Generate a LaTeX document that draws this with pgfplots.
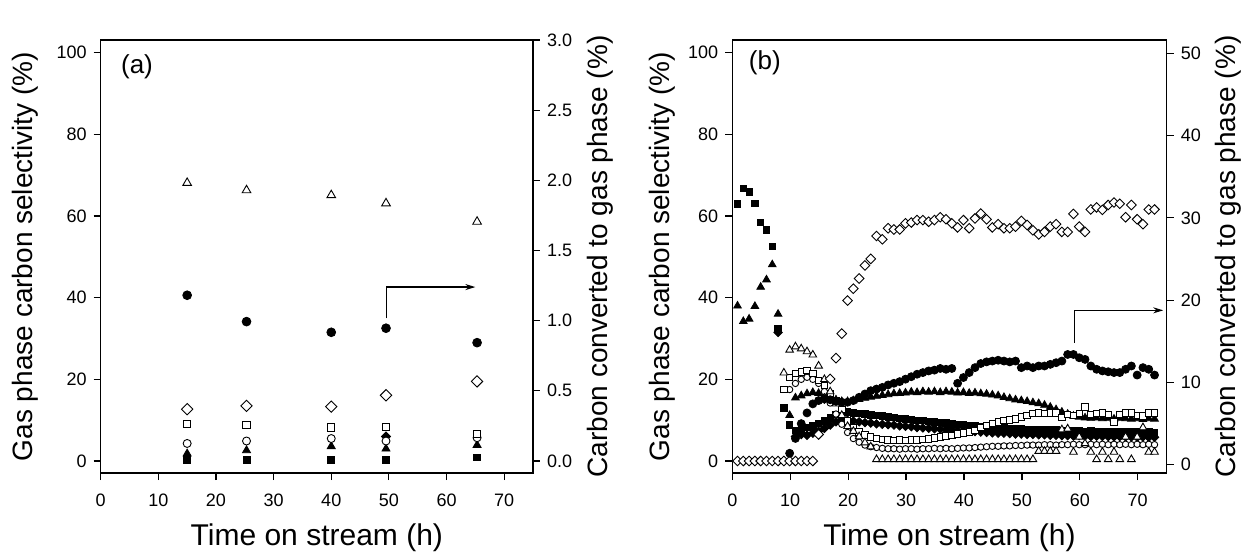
\documentclass[border=0pt]{standalone}
\usepackage{pgfplots}
\pgfplotsset{compat=1.18}
\usepackage{pgfplotstable}
\usepackage{fontspec}
\setmainfont{Liberation Sans}
\usetikzlibrary{arrows.meta}

\pgfplotstableread{
t     sq    tri   fdia  osq   oci   otri  odia
15.0  0.2   1.8   nan   9.0   4.3   68.1  12.7
25.3  0.2   2.6   nan   8.8   4.9   66.3  13.5
40.0  0.2   3.6   nan   8.2   5.5   65.1  13.3
49.5  0.2   3.0   6.0   8.3   4.9   63.1  16.1
65.3  0.9   3.9   nan   6.7   5.7   58.6  19.5
}\dataA

\pgfplotstableread{
t     fci
15.0  1.181
25.3  0.993
40.0  0.917
49.5  0.946
65.3  0.843
}\dataAr

\pgfplotstableread{
t     sq    tri   fdia  osq   oci   otri  odia
0.9   63.0  38.0  nan   nan   nan   nan   0
1.9   66.7  34.2  nan   nan   nan   nan   0
2.9   65.9  34.8  nan   nan   nan   nan   0
3.9   63.1  37.9  nan   nan   nan   nan   0
4.9   58.4  42.6  nan   nan   nan   nan   0
5.9   56.6  44.4  nan   nan   nan   nan   0
6.9   52.6  48.1  nan   nan   nan   nan   0
7.9   32.5  36.0  31.5  nan   nan   nan   0
8.9   13.0  nan   nan   17.5  nan   21.6  0
9.9   8.8   11.2  nan   20.5  17.5  27.2  0
10.9  7.5   15.5  6.0   21.5  19.0  28.0  0
11.9  7.8   16.0  6.5   21.8  20.0  27.5  0
12.9  8.2   16.5  6.3   22.2  20.5  26.8  0
13.9  8.6   16.8  6.8   21.4  20.0  26.0  0
14.9  9.2   16.6  7.3   19.8  19.0  23.3  6.5
15.9  9.8   16.0  8.0   18.5  17.0  20.0  15.3
16.9  10.6  15.5  8.8   16.5  14.2  17.0  20.1
17.9  11.4  15.0  9.6   14.9  11.5  14.0  25.2
18.9  11.9  14.6  10.2  12.6  9.0   11.2  31.2
19.9  12.0  14.6  10.0  9.8   7.0   8.5   39.3
20.9  11.8  14.8  9.8   8.2   5.5   7.3   42.2
21.9  11.6  15.1  9.6   7.1   4.6   6.0   44.7
22.9  11.5  15.4  9.4   6.4   3.9   4.5   47.9
23.9  11.3  15.7  9.3   5.9   3.5   3.5   49.5
24.9  11.1  15.9  9.1   5.5   3.3   0.4   55.1
25.9  11.0  16.1  9.0   5.3   3.1   0.4   54.3
26.9  10.8  16.3  8.9   5.2   3.0   0.4   57.0
27.9  10.7  16.5  8.8   5.1   3.0   0.4   56.7
28.9  10.5  16.6  8.6   5.2   2.9   0.4   56.7
29.9  10.3  16.7  8.5   5.1   3.0   0.4   58.2
30.9  10.2  16.9  8.4   5.2   3.0   0.4   58.4
31.9  10.0  16.8  8.2   5.2   2.9   0.4   59.0
32.9  9.9   17.0  8.1   5.3   3.0   0.4   59.0
33.9  9.7   16.9  8.0   5.4   3.0   0.4   58.6
34.9  9.6   17.0  7.9   5.6   3.1   0.4   59.0
35.9  9.4   16.8  7.8   5.9   3.0   0.4   59.7
36.9  9.3   17.0  7.7   6.1   3.1   0.4   59.2
37.9  9.1   16.9  7.6   6.3   3.0   0.4   58.2
38.9  9.0   16.7  7.5   6.6   3.1   0.4   57.2
39.9  8.9   16.8  7.4   6.9   3.2   0.4   59.0
40.9  8.7   16.6  7.3   7.1   3.2   0.4   57.0
41.9  8.6   16.7  7.2   7.5   3.3   0.4   59.4
42.9  8.5   16.5  7.1   8.2   3.4   0.4   60.6
43.9  8.4   16.4  7.0   8.7   3.5   0.4   59.2
44.9  8.3   16.2  6.9   9.2   3.6   0.4   57.2
45.9  8.2   16.0  6.8   9.6   3.6   0.4   58.0
46.9  8.1   15.6  6.8   10.0  3.7   0.4   57.0
47.9  8.0   15.3  6.7   10.1  3.7   0.4   57.0
48.9  7.9   15.0  6.6   10.3  3.8   0.4   57.4
49.9  7.9   14.8  6.6   10.8  3.8   0.4   58.8
50.9  7.8   14.6  6.5   11.2  3.9   0.4   57.8
51.9  7.8   14.3  6.5   11.6  3.9   0.4   56.5
52.9  7.7   14.1  6.4   11.8  3.9   2.4   55.5
53.9  7.7   13.7  6.4   11.7  4.0   2.4   56.1
54.9  7.6   13.2  6.3   11.8  4.0   2.4   57.4
55.9  7.6   12.6  6.3   11.8  3.9   2.4   58.0
56.9  7.5   12.0  6.2   10.6  4.0   7.7   56.1
57.9  7.5   11.5  6.2   11.4  4.0   7.9   56.1
58.9  7.4   11.0  6.1   11.2  4.1   2.2   60.5
59.9  7.4   10.8  6.2   11.6  4.0   5.9   57.4
60.9  7.3   10.6  6.1   13.2  4.0   4.3   56.1
61.9  7.4   10.5  6.0   11.4  4.1   2.2   61.6
62.9  7.3   10.6  6.1   11.6  4.0   0.4   62.1
63.9  7.2   10.4  6.0   11.8  4.1   2.2   61.5
64.9  7.3   10.5  6.0   11.4  4.0   0.4   62.7
65.9  7.2   10.3  5.9   9.6   4.1   2.2   63.3
66.9  7.2   10.5  6.0   11.4  4.0   0.4   63.0
67.9  7.1   10.4  5.9   11.8  4.1   5.9   59.7
68.9  7.2   10.3  5.9   11.8  4.0   0.4   62.7
69.9  7.1   10.4  5.8   11.2  4.1   5.9   59.2
70.9  7.0   10.2  5.9   11.0  4.0   8.2   58.0
71.9  7.1   10.4  5.8   11.8  4.1   2.2   61.6
72.9  7.0   10.3  5.8   11.8  4.0   2.2   61.6
}\dataB

\pgfplotstableread{
t     fci
9.9   1.4
10.9  3.2
11.9  5.0
12.9  6.3
13.9  7.4
14.9  7.8
15.9  8.0
16.9  7.9
17.9  7.7
18.9  7.6
19.9  7.6
20.9  7.8
21.9  8.2
22.9  8.6
23.9  9.0
24.9  9.2
25.9  9.4
26.9  9.7
27.9  9.9
28.9  10.1
29.9  10.4
30.9  10.7
31.9  11.0
32.9  11.2
33.9  11.4
34.9  11.5
35.9  11.7
36.9  11.6
37.9  11.7
38.9  9.9
39.9  10.6
40.9  11.2
41.9  11.8
42.9  12.3
43.9  12.5
44.9  12.6
45.9  12.7
46.9  12.6
47.9  12.5
48.9  12.6
49.9  11.8
50.9  12.0
51.9  11.8
52.9  12.0
53.9  12.0
54.9  12.2
55.9  12.4
56.9  12.6
57.9  13.4
58.9  13.4
59.9  13.0
60.9  12.8
61.9  12.0
62.9  11.6
63.9  11.4
64.9  11.3
65.9  11.2
66.9  11.2
67.9  11.6
68.9  12.0
69.9  10.9
70.9  11.8
71.9  11.6
72.9  10.9
}\dataBr

\tikzset{
  xlbl/.style={font=\fontsize{15}{17}\selectfont},
  ylbl/.style={font=\fontsize{14}{16}\selectfont},
  plbl/.style={font=\fontsize{13}{15}\selectfont},
}

\pgfplotsset{
  base/.style={
    scale only axis, height=216.5pt,
    xmin=0, xmax=75, xtick={0,10,...,70},
    tick align=outside, major tick length=3.5pt,
    every tick/.style={line width=0.6pt, black},
    axis line style={line width=0.6pt},
    tick label style={font=\fontsize{9}{10}\selectfont},
    /pgf/number format/assume math mode=true,
    xticklabel style={yshift=-3.5pt},
    minor tick num=0,
    clip=false,
  },
  fsq/.style={only marks, mark=square*, mark size=1.6pt, mark options={draw=black, fill=black, line width=0.4pt}},
  ftri/.style={only marks, mark=triangle*, mark size=2.2pt, mark options={draw=black, fill=black, line width=0.4pt}},
  fdia/.style={only marks, mark=square*, mark size=1.5pt, mark options={rotate=45, draw=black, fill=black, line width=0.4pt}},
  fci/.style={only marks, mark=*, mark size=2.0pt, mark options={draw=black, fill=black, line width=0.4pt}},
  osq/.style={only marks, mark=square*, mark size=1.6pt, mark options={draw=black, fill=white, line width=0.45pt}},
  oci/.style={only marks, mark=*, mark size=1.6pt, mark options={draw=black, fill=white, line width=0.45pt}},
  otri/.style={only marks, mark=triangle*, mark size=2.2pt, mark options={draw=black, fill=white, line width=0.45pt}},
  odia/.style={only marks, mark=square*, mark size=1.7pt, mark options={rotate=45, draw=black, fill=white, line width=0.45pt}},
}

\begin{document}
\begin{tikzpicture}
\useasboundingbox (0,0) rectangle (624.5pt,-277pt);

% ---------- panel (a) ----------
\begin{axis}[base, at={(50.35pt,-236.5pt)}, anchor=south west, width=216.15pt,
  ymin=-2.94, ymax=103.1, ytick={0,20,...,100},
  xtick pos=left, ytick pos=left,
  xlabel={Time on stream (h)}, ylabel={Gas phase carbon selectivity (\%)},
  every axis x label/.style={at={(axis description cs:0.5,-0.150)}, anchor=center, xlbl},
  every axis y label/.style={at={(axis description cs:-0.175,0.5)}, anchor=center, rotate=90, ylbl}]
\addplot[fsq, mark size=1.7pt] table[x=t, y=sq] {\dataA};
\addplot[ftri, mark size=2.3pt] table[x=t, y=tri] {\dataA};
\addplot[fdia, mark size=1.6pt] table[x=t, y=fdia] {\dataA};
\addplot[oci, mark size=2.0pt] table[x=t, y=oci] {\dataA};
\addplot[osq, mark size=1.8pt] table[x=t, y=osq] {\dataA};
\addplot[odia, mark size=2.0pt] table[x=t, y=odia] {\dataA};
\addplot[otri, mark size=2.5pt] table[x=t, y=otri] {\dataA};
\node[plbl] at (axis description cs:0.084,0.938) {(a)};
\draw[line width=0.6pt, -{Stealth[length=5pt, width=3pt]}] (axis cs:49.6,34.9) |- (axis cs:65,42.6);
\end{axis}
\begin{axis}[base, at={(50.35pt,-236.5pt)}, anchor=south west, width=216.15pt,
  axis x line=none, axis y line*=right,
  ymin=-0.086, ymax=3.0, ytick={0,0.5,...,3.0},
  yticklabel style={/pgf/number format/.cd, fixed, fixed zerofill, precision=1},
  ylabel={Carbon converted to gas phase (\%)},
  every axis y label/.style={at={(axis description cs:1.155,0.5)}, anchor=center, rotate=90, ylbl}]
\addplot[fci, mark size=2.2pt] table[x=t, y=fci] {\dataAr};
\end{axis}

% ---------- panel (b) ----------
\begin{axis}[base, at={(366.15pt,-236.5pt)}, anchor=south west, width=217.2pt,
  ymin=-2.94, ymax=103.1, ytick={0,20,...,100},
  xtick pos=left, ytick pos=left,
  xlabel={Time on stream (h)}, ylabel={Gas phase carbon selectivity (\%)},
  every axis x label/.style={at={(axis description cs:0.5,-0.150)}, anchor=center, xlbl},
  every axis y label/.style={at={(axis description cs:-0.162,0.5)}, anchor=center, rotate=90, ylbl}]
\addplot[fsq] table[x=t, y=sq] {\dataB};
\addplot[ftri] table[x=t, y=tri] {\dataB};
\addplot[fdia] table[x=t, y=fdia] {\dataB};
\addplot[oci] table[x=t, y=oci] {\dataB};
\addplot[osq] table[x=t, y=osq] {\dataB};
\addplot[otri] table[x=t, y=otri] {\dataB};
\addplot[odia] table[x=t, y=odia] {\dataB};
\node[plbl] at (axis description cs:0.075,0.948) {(b)};
\draw[line width=0.6pt, -{Stealth[length=5pt, width=3pt]}] (axis cs:59.1,28.9) |- (axis cs:74.4,36.9);
\end{axis}
\begin{axis}[base, at={(366.15pt,-236.5pt)}, anchor=south west, width=217.2pt,
  axis x line=none, axis y line*=right,
  ymin=-1.0, ymax=51.6, ytick={0,10,...,50},
  ylabel={Carbon converted to gas phase (\%)},
  every axis y label/.style={at={(axis description cs:1.141,0.5)}, anchor=center, rotate=90, ylbl}]
\addplot[fci] table[x=t, y=fci] {\dataBr};
\end{axis}
\end{tikzpicture}
\end{document}
